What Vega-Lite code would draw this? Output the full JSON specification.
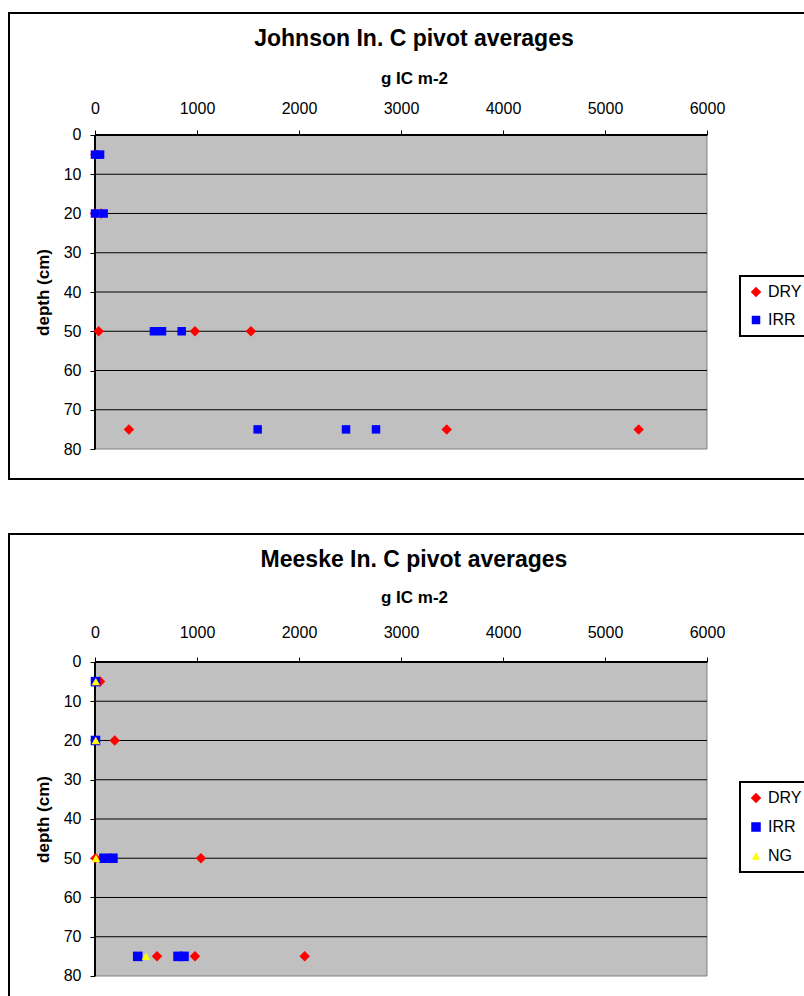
{
  "$schema": "https://vega.github.io/schema/vega-lite/v6.json",
  "padding": {"left": 8, "top": 12, "right": 0, "bottom": 0},
  "background": "white",
  "spacing": 53,
  "datasets": {
    "johnson": [
      {"ic": 3, "depth": 5, "treatment": "DRY"},
      {"ic": 0, "depth": 20, "treatment": "DRY"},
      {"ic": 59, "depth": 20, "treatment": "DRY"},
      {"ic": 36, "depth": 50, "treatment": "DRY"},
      {"ic": 980, "depth": 50, "treatment": "DRY"},
      {"ic": 1529, "depth": 50, "treatment": "DRY"},
      {"ic": 333, "depth": 75, "treatment": "DRY"},
      {"ic": 3448, "depth": 75, "treatment": "DRY"},
      {"ic": 5330, "depth": 75, "treatment": "DRY"},
      {"ic": 0, "depth": 5, "treatment": "IRR"},
      {"ic": 50, "depth": 5, "treatment": "IRR"},
      {"ic": 0, "depth": 20, "treatment": "IRR"},
      {"ic": 85, "depth": 20, "treatment": "IRR"},
      {"ic": 578, "depth": 50, "treatment": "IRR"},
      {"ic": 657, "depth": 50, "treatment": "IRR"},
      {"ic": 850, "depth": 50, "treatment": "IRR"},
      {"ic": 1595, "depth": 75, "treatment": "IRR"},
      {"ic": 2461, "depth": 75, "treatment": "IRR"},
      {"ic": 2755, "depth": 75, "treatment": "IRR"}
    ],
    "meeske": [
      {"ic": 50, "depth": 5, "treatment": "DRY"},
      {"ic": 193, "depth": 20, "treatment": "DRY"},
      {"ic": 5, "depth": 50, "treatment": "DRY"},
      {"ic": 157, "depth": 50, "treatment": "DRY"},
      {"ic": 1039, "depth": 50, "treatment": "DRY"},
      {"ic": 608, "depth": 75, "treatment": "DRY"},
      {"ic": 980, "depth": 75, "treatment": "DRY"},
      {"ic": 2056, "depth": 75, "treatment": "DRY"},
      {"ic": 5, "depth": 5, "treatment": "IRR"},
      {"ic": 5, "depth": 20, "treatment": "IRR"},
      {"ic": 88, "depth": 50, "treatment": "IRR"},
      {"ic": 176, "depth": 50, "treatment": "IRR"},
      {"ic": 419, "depth": 75, "treatment": "IRR"},
      {"ic": 814, "depth": 75, "treatment": "IRR"},
      {"ic": 873, "depth": 75, "treatment": "IRR"},
      {"ic": 8, "depth": 5, "treatment": "NG"},
      {"ic": 8, "depth": 20, "treatment": "NG"},
      {"ic": 10, "depth": 50, "treatment": "NG"},
      {"ic": 500, "depth": 75, "treatment": "NG"}
    ],
    "grid": [
      {"depth": 10}, {"depth": 20}, {"depth": 30}, {"depth": 40},
      {"depth": 50}, {"depth": 60}, {"depth": 70}
    ],
    "one": [{}]
  },
  "vconcat": [
    {
      "width": 810,
      "height": 466,
      "title": {"text": "Johnson In. C pivot averages", "fontSize": 23, "fontWeight": "bold", "anchor": "middle", "baseline": "alphabetic", "offset": -56, "color": "black"},
      "layer": [
        {
          "data": {"name": "one"},
          "mark": {"type": "rect", "fill": "#C0C0C0", "stroke": "#808080", "strokeWidth": 1},
          "encoding": {
            "x": {"datum": 0, "type": "quantitative"},
            "x2": {"datum": 6000},
            "y": {"datum": 0, "type": "quantitative"},
            "y2": {"datum": 80}
          }
        },
        {
          "data": {"name": "grid"},
          "mark": {"type": "rule", "color": "black", "strokeWidth": 1},
          "encoding": {
            "y": {"field": "depth", "type": "quantitative"},
            "x": {"datum": 0, "type": "quantitative"},
            "x2": {"datum": 6000}
          }
        },
        {
          "data": {"name": "one"},
          "mark": {"type": "rule", "color": "black", "strokeWidth": 2},
          "encoding": {
            "y": {"datum": 0, "type": "quantitative"},
            "x": {"datum": 0, "type": "quantitative"},
            "x2": {"datum": 6000}
          }
        },
        {
          "data": {"name": "one"},
          "mark": {"type": "rule", "color": "black", "strokeWidth": 2},
          "encoding": {
            "x": {"datum": 0, "type": "quantitative"},
            "y": {"datum": 0, "type": "quantitative"},
            "y2": {"datum": 80}
          }
        },
        {
          "data": {"name": "johnson"},
          "mark": {"type": "point", "filled": true, "opacity": 1},
          "encoding": {
            "x": {"field": "ic", "type": "quantitative", "scale": {"domain": [-843, 7098], "nice": false, "zero": false},
              "axis": {"orient": "top", "offset": -122, "values": [0, 1000, 2000, 3000, 4000, 5000, 6000], "domain": false, "grid": false, "tickSize": 5, "tickColor": "black", "tickWidth": 1, "labelPadding": 14, "labelFontSize": 16, "labelColor": "black", "labelFont": "Liberation Sans", "format": "d", "title": "g IC m-2", "titleFontSize": 17, "titleFont": "Liberation Sans", "titleFontWeight": "bold", "titleColor": "black", "titlePadding": 13}},
            "y": {"field": "depth", "type": "quantitative", "scale": {"domain": [-31.08, 87.64], "reverse": true, "nice": false, "zero": false},
              "axis": {"orient": "left", "offset": -86, "values": [0, 10, 20, 30, 40, 50, 60, 70, 80], "domain": false, "grid": false, "tickSize": 5, "tickColor": "black", "tickWidth": 1, "labelPadding": 9, "labelFontSize": 16, "labelColor": "black", "labelFont": "Liberation Sans", "title": "depth (cm)", "titleFontSize": 17, "titleFont": "Liberation Sans", "titleFontWeight": "bold", "titleColor": "black", "titleX": -52, "titleY": 279, "titleAngle": -90, "titleAlign": "center", "titleBaseline": "middle"}},
            "color": {"field": "treatment", "type": "nominal", "scale": {"domain": ["DRY", "IRR"], "range": ["#FF0000", "#0000FF"]},
              "legend": {"orient": "none", "legendX": 731, "legendY": 263, "title": null, "strokeColor": "black", "padding": 8, "rowPadding": 12, "labelFontSize": 16, "labelFont": "Liberation Sans", "labelColor": "black", "symbolSize": 55, "labelOffset": 4, "symbolOpacity": 1,
                "encode": {"legend": {"update": {"strokeWidth": {"value": 2}}}}}},
            "shape": {"field": "treatment", "type": "nominal", "scale": {"domain": ["DRY", "IRR"], "range": ["diamond", "square"]}},
            "size": {"field": "treatment", "type": "nominal", "scale": {"domain": ["DRY", "IRR"], "range": [110, 72]}, "legend": null}
          }
        }
      ]
    },
    {
      "width": 810,
      "height": 475,
      "title": {"text": "Meeske In. C pivot averages", "fontSize": 23, "fontWeight": "bold", "anchor": "middle", "baseline": "alphabetic", "offset": -56, "color": "black"},
      "layer": [
        {
          "data": {"name": "one"},
          "mark": {"type": "rect", "fill": "#C0C0C0", "stroke": "#808080", "strokeWidth": 1},
          "encoding": {
            "x": {"datum": 0, "type": "quantitative"},
            "x2": {"datum": 6000},
            "y": {"datum": 0, "type": "quantitative"},
            "y2": {"datum": 80}
          }
        },
        {
          "data": {"name": "grid"},
          "mark": {"type": "rule", "color": "black", "strokeWidth": 1},
          "encoding": {
            "y": {"field": "depth", "type": "quantitative"},
            "x": {"datum": 0, "type": "quantitative"},
            "x2": {"datum": 6000}
          }
        },
        {
          "data": {"name": "one"},
          "mark": {"type": "rule", "color": "black", "strokeWidth": 2},
          "encoding": {
            "y": {"datum": 0, "type": "quantitative"},
            "x": {"datum": 0, "type": "quantitative"},
            "x2": {"datum": 6000}
          }
        },
        {
          "data": {"name": "one"},
          "mark": {"type": "rule", "color": "black", "strokeWidth": 2},
          "encoding": {
            "x": {"datum": 0, "type": "quantitative"},
            "y": {"datum": 0, "type": "quantitative"},
            "y2": {"datum": 80}
          }
        },
        {
          "data": {"name": "meeske"},
          "mark": {"type": "point", "filled": true, "opacity": 1},
          "encoding": {
            "x": {"field": "ic", "type": "quantitative", "scale": {"domain": [-843, 7098], "nice": false, "zero": false},
              "axis": {"orient": "top", "offset": -128, "values": [0, 1000, 2000, 3000, 4000, 5000, 6000], "domain": false, "grid": false, "tickSize": 5, "tickColor": "black", "tickWidth": 1, "labelPadding": 17, "labelFontSize": 16, "labelColor": "black", "labelFont": "Liberation Sans", "format": "d", "title": "g IC m-2", "titleFontSize": 17, "titleFont": "Liberation Sans", "titleFontWeight": "bold", "titleColor": "black", "titlePadding": 18}},
            "y": {"field": "depth", "type": "quantitative", "scale": {"domain": [-32.61, 88.41], "reverse": true, "nice": false, "zero": false},
              "axis": {"orient": "left", "offset": -86, "values": [0, 10, 20, 30, 40, 50, 60, 70, 80], "domain": false, "grid": false, "tickSize": 5, "tickColor": "black", "tickWidth": 1, "labelPadding": 9, "labelFontSize": 16, "labelColor": "black", "labelFont": "Liberation Sans", "title": "depth (cm)", "titleFontSize": 17, "titleFont": "Liberation Sans", "titleFontWeight": "bold", "titleColor": "black", "titleX": -52, "titleY": 285, "titleAngle": -90, "titleAlign": "center", "titleBaseline": "middle"}},
            "color": {"field": "treatment", "type": "nominal", "scale": {"domain": ["DRY", "IRR", "NG"], "range": ["#FF0000", "#0000FF", "#FFFF00"]},
              "legend": {"orient": "none", "legendX": 731, "legendY": 248, "title": null, "strokeColor": "black", "padding": 8, "rowPadding": 13, "labelFontSize": 16, "labelFont": "Liberation Sans", "labelColor": "black", "symbolSize": 55, "labelOffset": 4, "symbolOpacity": 1,
                "encode": {"legend": {"update": {"strokeWidth": {"value": 2}}}}}},
            "shape": {"field": "treatment", "type": "nominal", "scale": {"domain": ["DRY", "IRR", "NG"], "range": ["diamond", "square", "triangle-up"]}},
            "size": {"field": "treatment", "type": "nominal", "scale": {"domain": ["DRY", "IRR", "NG"], "range": [110, 72, 120]}, "legend": null}
          }
        }
      ]
    }
  ],
  "resolve": {"scale": {"color": "independent", "shape": "independent", "size": "independent"}, "legend": {"color": "independent", "shape": "independent", "size": "independent"}},
  "config": {
    "font": "Liberation Sans",
    "view": {"stroke": "black", "strokeWidth": 2},
    "title": {"font": "Liberation Sans"}
  }
}
